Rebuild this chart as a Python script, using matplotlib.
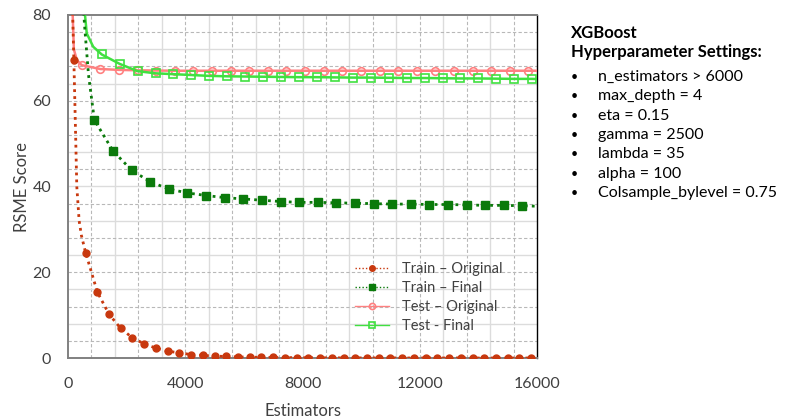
import matplotlib
matplotlib.use("Agg")
import matplotlib.pyplot as plt
import numpy as np

# ---- data ----
train_orig_x = [100, 200, 260, 300, 380, 460, 600, 1000, 1400, 1800, 2200, 2600, 3000, 3400, 3800,
                4200, 4600, 5000, 5400, 5800, 6200, 6600, 7000, 7400, 7800, 8200, 8600,
                9000, 9400, 9800, 10200, 10600, 11000, 11400, 11800, 12200, 12600, 13000,
                13400, 13800, 14200, 14600, 15000, 15400, 15800]
train_orig_y = [95, 69.5, 52, 40, 32, 28.5, 24.6, 15.4, 10.2, 6.9, 4.7, 3.3, 2.3, 1.6, 1.2,
                0.8, 0.6, 0.45, 0.35, 0.25, 0.2, 0.15, 0.12, 0.1, 0.08, 0.06, 0.05,
                0.04, 0.03, 0.03, 0.02, 0.02, 0.02, 0.01, 0.01, 0.01, 0.01, 0.01,
                0.01, 0.0, 0.0, 0.0, 0.0, 0.0, 0.0]
train_orig_marks = [1] + list(range(6, 45))

train_final_x = [420, 560, 700, 900, 1535, 2170, 2805, 3440, 4075, 4710, 5345, 5980, 6615,
                 7250, 7885, 8520, 9155, 9790, 10425, 11060, 11695, 12330, 12965,
                 13600, 14235, 14870, 15505, 16000]
train_final_y = [95, 78, 66, 55.5, 48.3, 43.8, 41.1, 39.4, 38.5, 37.9, 37.4, 37.1, 36.8,
                 36.5, 36.3, 36.3, 36.2, 36.1, 36.0, 35.9, 35.9, 35.8, 35.8,
                 35.7, 35.6, 35.6, 35.5, 35.4]
train_final_marks = list(range(3, 27))

test_orig_x = [120, 200, 300, 467, 1102, 1737, 2372, 3007, 3642, 4277, 4912, 5547, 6182,
               6817, 7452, 8087, 8722, 9357, 9992, 10627, 11262, 11897, 12532,
               13167, 13802, 14437, 15072, 15707, 16000]
test_orig_y = [88, 72, 69.5, 68.3, 67.4, 67.2, 67.1, 67.05, 67.0, 67.0, 67.0, 67.0, 67.0,
               67.0, 67.0, 67.0, 67.0, 67.0, 67.0, 67.0, 67.0, 67.0, 67.0,
               67.0, 67.0, 67.0, 67.0, 67.0, 67.0]
test_orig_marks = list(range(3, 28))

test_final_x = [480, 580, 640, 860, 1150, 1762, 2374, 2986, 3598, 4210, 4822, 5434, 6046,
                6658, 7270, 7882, 8494, 9106, 9718, 10330, 10942, 11554, 12166,
                12778, 13390, 14002, 14614, 15226, 15838, 16000]
test_final_y = [90, 80, 75.7, 72.6, 70.8, 68.6, 66.9, 66.4, 66.2, 66.0, 65.8, 65.7, 65.65,
                65.6, 65.55, 65.5, 65.5, 65.45, 65.4, 65.4, 65.35, 65.3, 65.3,
                65.25, 65.2, 65.2, 65.15, 65.1, 65.1, 65.05]
test_final_marks = list(range(4, 29))

x_ticks = [0, 4000, 8000, 12000, 16000]
y_ticks = [0, 20, 40, 60, 80]

settings_title = ["XGBoost", "Hyperparameter Settings:"]
settings = ["n_estimators > 6000", "max_depth = 4", "eta = 0.15", "gamma = 2500",
            "lambda = 35", "alpha = 100", "Colsample_bylevel = 0.75"]

# ---- figure ----
FONT = ["Lato", "DejaVu Sans"]
plt.rcParams["font.family"] = FONT

fig = plt.figure(figsize=(7.93, 4.19), dpi=100)
ax = fig.add_axes([68 / 793, 1 - 358 / 419, (537 - 68) / 793, (358 - 15) / 419])

c_tr_o = "#c8380e"
c_tr_f = "#0b7a0b"
c_te_o = "#ff8080"
c_te_f = "#40e040"

ax.plot(test_orig_x, test_orig_y, color=c_te_o, lw=1.8, marker="o", ms=5.5,
        mfc="none", mec=c_te_o, mew=1.2, markevery=test_orig_marks,
        label="Test \u2013 Original", zorder=3)
ax.plot(test_final_x, test_final_y, color=c_te_f, lw=1.8, marker="s", ms=5.5,
        mfc="none", mec=c_te_f, mew=1.2, markevery=test_final_marks,
        label="Test - Final", zorder=3)
ax.plot(train_final_x, train_final_y, color=c_tr_f, lw=2.0, ls=(0, (1, 1.5)),
        marker="s", ms=5.2, mfc=c_tr_f, mec=c_tr_f, markevery=train_final_marks,
        label="Train \u2013 Final", zorder=4)
ax.plot(train_orig_x, train_orig_y, color=c_tr_o, lw=2.0, ls=(0, (1, 1.5)),
        marker="o", ms=5.0, mfc=c_tr_o, mec=c_tr_o, markevery=train_orig_marks,
        label="Train \u2013 Original", zorder=4)

ax.set_xlim(0, 16000)
ax.set_ylim(0, 80)
ax.set_xticks(x_ticks)
ax.set_yticks(y_ticks)
ax.tick_params(length=0, labelsize=11.5, colors="#404040", pad=12)
ax.tick_params(axis="x", pad=14)

# gridlines every 800 / every 4
for i, xv in enumerate(np.arange(800, 16000, 800)):
    if i % 2 == 0:
        ax.axvline(xv, color="#b8b8b8", lw=0.8, ls=(0, (3, 2)), zorder=0)
    else:
        ax.axvline(xv, color="#dcdcdc", lw=1.0, zorder=0)
for i, yv in enumerate(np.arange(4, 80, 4)):
    if i % 2 == 0:
        ax.axhline(yv, color="#b8b8b8", lw=0.8, ls=(0, (3, 2)), zorder=0)
    else:
        ax.axhline(yv, color="#dcdcdc", lw=1.0, zorder=0)

for s in ["left", "bottom", "top"]:
    ax.spines[s].set_color("#808080")
    ax.spines[s].set_linewidth(1.4)
ax.spines["right"].set_color("#000000")
ax.spines["right"].set_linewidth(1.0)

ax.set_xlabel("Estimators", fontsize=12, color="#404040", labelpad=8)
ax.set_ylabel("RSME Score", fontsize=12, color="#404040", labelpad=2)

handles, labels = ax.get_legend_handles_labels()
order = [3, 2, 0, 1]
leg = ax.legend([handles[i] for i in order], [labels[i] for i in order],
                loc="lower left", bbox_to_anchor=((355 - 68) / 469, (358 - 333) / 343),
                frameon=False, borderpad=0, borderaxespad=0,
                fontsize=10.5, handlelength=2.3, handletextpad=0.9, labelspacing=0.35,
                markerscale=0.8)
for line in leg.get_lines():
    line.set_linewidth(1.0)
for t in leg.get_texts():
    t.set_color("#404040")

# settings text block
fig.text(571 / 793, 1 - 33 / 419, settings_title[0], fontsize=12, fontweight="bold",
         va="center", ha="left", color="#000000")
fig.text(571 / 793, 1 - 52 / 419, settings_title[1], fontsize=12, fontweight="bold",
         va="center", ha="left", color="#000000")
for i, s in enumerate(settings):
    y = 1 - (77 + 19.3 * i) / 419
    fig.text(571 / 793, y, "\u2022", fontsize=9, va="center", ha="left", color="#000000")
    fig.text(598 / 793, y, s, fontsize=11.5, va="center", ha="left", color="#000000")

fig.savefig("out.png", dpi=100)
